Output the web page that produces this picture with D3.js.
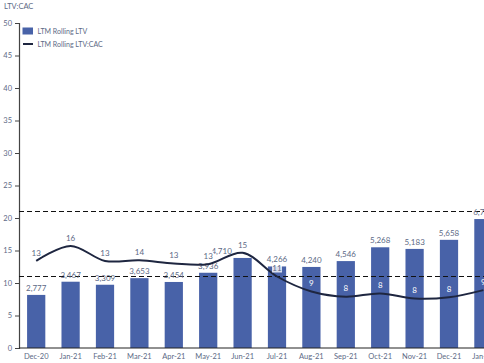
<!DOCTYPE html>
<html lang="en">
	<head>
		<meta charset="utf-8">
		<title>LTM Rolling LTV and LTV:CAC</title>
		<script type="text/javascript" src="https://cdn.jsdelivr.net/npm/d3@7"></script>
		<style type="text/css">
			body { margin: 0; background: #fff; }
			text { font-family: Lato, "Liberation Sans", sans-serif; }
		</style>
	</head>
	<body>
		<script type="text/javascript">

			//Data
			let months = ["Dec-20","Jan-21","Feb-21","Mar-21","Apr-21","May-21","Jun-21","Jul-21","Aug-21","Sep-21","Oct-21","Nov-21","Dec-21","Jan-22"];
			let ltv = [2777, 3467, 3309, 3653, 3454, 3936, 4710, 4266, 4240, 4546, 5268, 5183, 5658, 6745];
			let ltvCac = [13.4, 15.7, 13.4, 13.5, 13.0, 12.9, 14.65, 11.0, 8.7, 7.9, 8.4, 7.6, 7.8, 8.9];
			let refLines = [21, 11];
			let yTicks = [0, 5, 10, 15, 20, 25, 30, 35, 40, 45, 50];

			//Width and height
			let w = 484;
			let h = 363;

			let barColor = "#4862a8";
			let lineColor = "#1e2640";
			let textColor = "#5d6a86";

			let svg = d3.select("body")
						.append("svg")
						  .attr("width", w)
						  .attr("height", h);

			//Scales
			let x = d3.scaleBand()
						.domain(months)
						.range([19, 19 + 34.4 * months.length])
						.paddingInner(0.47)
						.paddingOuter(0.235);

			let y = d3.scaleLinear()
						.domain([0, 50])
						.range([348, 23]);

			//Bars sit on a hidden secondary axis
			let y2 = d3.scaleLinear()
						.domain([0, 17000])
						.range([348, 23]);

			let fmt = d3.format(",");

			//Axis title
			svg.append("text")
				.attr("x", 4)
				.attr("y", 9)
				.attr("font-size", 7.5)
				.attr("fill", textColor)
				.text("LTV:CAC");

			//Y axis
			let yAxis = svg.append("g")
				.attr("transform", "translate(19,0)")
				.call(d3.axisLeft(y).tickValues(yTicks).tickSize(4).tickPadding(3));
			yAxis.select(".domain").attr("stroke", "#444").attr("stroke-width", 1.2);
			yAxis.selectAll(".tick line").attr("stroke", "#444");
			yAxis.selectAll(".tick text")
				.attr("font-size", 7.5)
				.attr("fill", textColor)
				.attr("font-family", "Lato, sans-serif");

			//Bars
			svg.selectAll("rect.bar")
				.data(ltv)
				.enter()
			  .append("rect")
				.attr("class", "bar")
				.attr("x", (d, i) => x(months[i]))
				.attr("y", d => y2(d))
				.attr("width", x.bandwidth())
				.attr("height", d => y2(0) - y2(d))
				.attr("fill", barColor);

			//Reference lines
			svg.selectAll("line.ref")
				.data(refLines)
				.enter()
			  .append("line")
				.attr("class", "ref")
				.attr("x1", 19)
				.attr("x2", w)
				.attr("y1", d => y(d))
				.attr("y2", d => y(d))
				.attr("stroke", "#111")
				.attr("stroke-width", 1.2)
				.attr("stroke-dasharray", "5,3");

			//Bar labels (Jun-21 label nudged left, clear of the line label)
			svg.selectAll("text.barlab")
				.data(ltv)
				.enter()
			  .append("text")
				.attr("class", "barlab")
				.attr("x", (d, i) => x(months[i]) + x.bandwidth() / 2 + (i == 6 ? -21 : 0))
				.attr("y", d => y2(d) - 4)
				.attr("text-anchor", "middle")
				.attr("font-size", 8)
				.attr("fill", textColor)
				.text(d => fmt(d));

			//LTV:CAC line
			let line = d3.line()
				.x((d, i) => x(months[i]) + x.bandwidth() / 2)
				.y(d => y(d))
				.curve(d3.curveCatmullRom);

			svg.append("path")
				.datum(ltvCac)
				.attr("d", line)
				.attr("fill", "none")
				.attr("stroke", lineColor)
				.attr("stroke-width", 2);

			//Line labels: first ones have a white box, later ones sit white inside the bars
			let lineLabs = svg.selectAll("g.linelab")
				.data(ltvCac)
				.enter()
			  .append("g")
				.attr("class", "linelab")
				.attr("transform", (d, i) => `translate(${x(months[i]) + x.bandwidth() / 2},${y(d) - 8})`);

			lineLabs.filter((d, i) => i < 8)
			  .append("rect")
				.attr("x", -5)
				.attr("y", -5)
				.attr("width", 10)
				.attr("height", 9)
				.attr("fill", "#fff")
				.attr("opacity", (d, i) => i == 7 ? 0.8 : 1);

			lineLabs.append("text")
				.attr("text-anchor", "middle")
				.attr("dy", "0.35em")
				.attr("font-size", 8)
				.attr("fill", (d, i) => i < 8 ? textColor : "#fff")
				.text(d => Math.round(d));

			//X axis
			let xAxis = svg.append("g")
				.attr("transform", "translate(0,348)")
				.call(d3.axisBottom(x).tickSize(0).tickPadding(6));
			xAxis.select(".domain")
				.attr("d", `M19,0H${w}`)
				.attr("stroke", "#222")
				.attr("stroke-width", 1.2);
			xAxis.selectAll(".tick text")
				.attr("font-size", 7.5)
				.attr("fill", textColor)
				.attr("font-family", "Lato, sans-serif");

			//Legend
			let legend = svg.append("g");
			legend.append("rect")
				.attr("x", 22.5)
				.attr("y", 27.5)
				.attr("width", 10.5)
				.attr("height", 7)
				.attr("fill", barColor);
			legend.append("text")
				.attr("x", 37.5)
				.attr("y", 33.5)
				.attr("font-size", 7)
				.attr("fill", textColor)
				.text("LTM Rolling LTV");
			legend.append("line")
				.attr("x1", 23)
				.attr("x2", 33)
				.attr("y1", 44)
				.attr("y2", 44)
				.attr("stroke", lineColor)
				.attr("stroke-width", 2);
			legend.append("text")
				.attr("x", 37.5)
				.attr("y", 46.5)
				.attr("font-size", 7)
				.attr("fill", textColor)
				.text("LTM Rolling LTV:CAC");

		</script>
	</body>
</html>
